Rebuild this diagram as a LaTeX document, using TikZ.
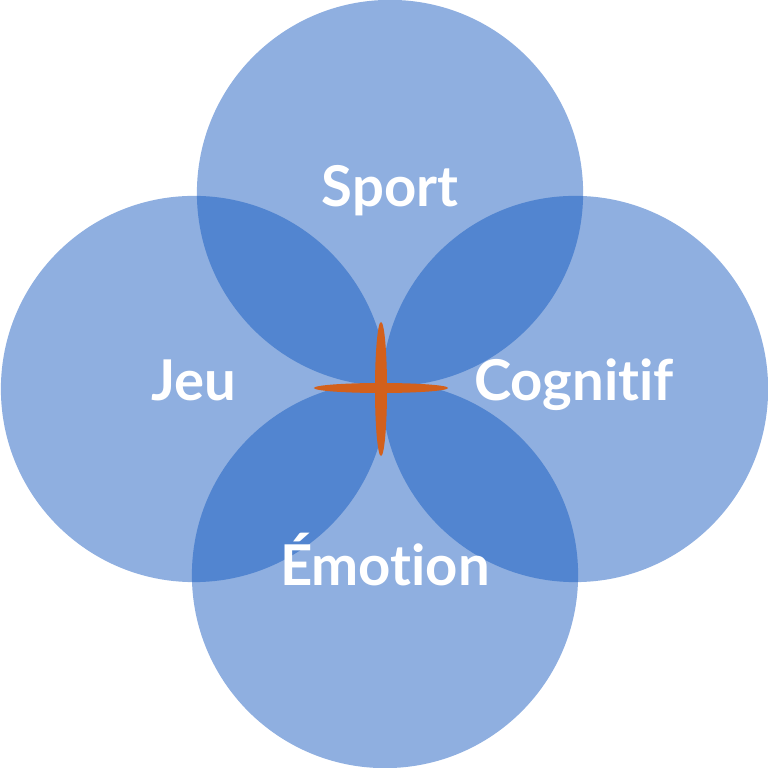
\documentclass[tikz,border=0pt]{standalone}
\usepackage{fontspec}
\setmainfont{Lato}[Ligatures=NoCommon]
\definecolor{lightblue}{HTML}{8FAFE0}
\definecolor{darkblue}{HTML}{5285D0}
\definecolor{crossorange}{HTML}{D2601C}
\tikzset{
  zone/.style={circle, minimum size=3.86cm, inner sep=0pt, fill=lightblue},
  label/.style={text=white, font=\fontsize{16}{19}\selectfont\bfseries, inner sep=0pt, anchor=base}
}
\begin{document}
\begin{tikzpicture}[x=0.01cm, y=-0.01cm]
  \useasboundingbox (0,0) rectangle (768,768);
  % the four circles
  \node[zone] (sport) at (390,193) {};
  \node[zone] (jeu) at (194,389) {};
  \node[zone] (cognitif) at (575,389) {};
  \node[zone] (emotion) at (385,575) {};
  % overlaps
  \foreach \a/\b in {sport/jeu, sport/cognitif, emotion/jeu, emotion/cognitif} {
    \begin{scope}
      \clip (\a.center) circle[radius=1.93cm];
      \fill[darkblue] (\b.center) circle[radius=1.93cm];
    \end{scope}
  }
  % the cross
  \fill[crossorange] (381,389) ellipse[x radius=0.06cm, y radius=0.67cm];
  \fill[crossorange] (381,388) ellipse[x radius=0.67cm, y radius=0.05cm];
  % labels
  \node[label] (tsport) at (390,207) {Sport};
  \node[label] (tjeu) at (194,401) {Jeu};
  \node[label] (tcognitif) at (574,401) {Cognitif};
  \node[label] (temotion) at (385,585) {Émotion};
\end{tikzpicture}
\end{document}
